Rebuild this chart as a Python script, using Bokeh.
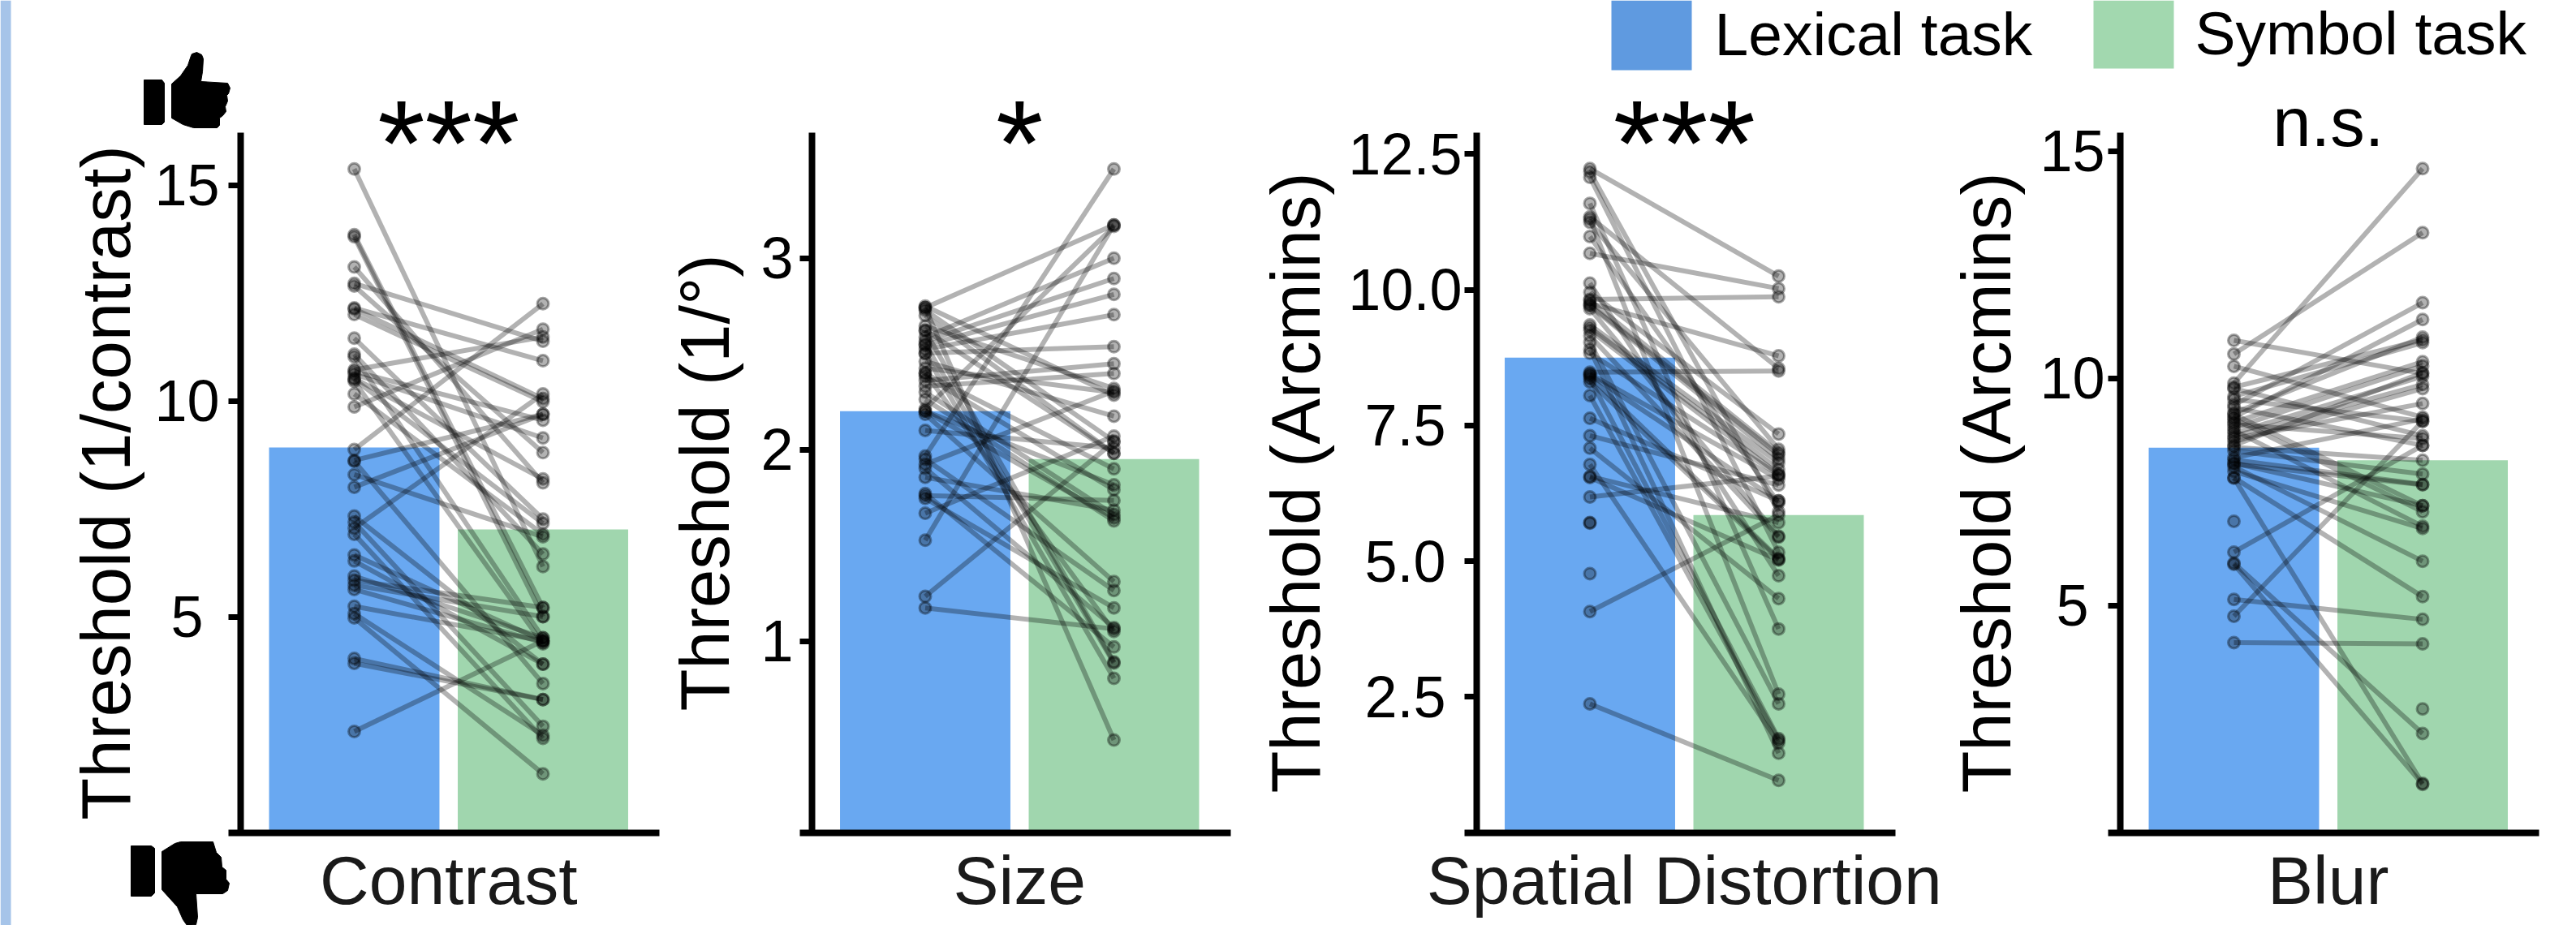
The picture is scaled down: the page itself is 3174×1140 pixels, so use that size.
from bokeh.plotting import figure
from bokeh.models import Range1d, FixedTicker, Label, LinearAxis
from bokeh.embed import file_html
from bokeh.resources import INLINE
from bokeh.core.properties import value

FONT = "Liberation Sans"
tasks = ["Lexical task", "Symbol task"]
LEX = "#69A8F1"
SYM = "#A0D6AE"

contrast_lex = [15.37,13.85,13.80,13.10,12.72,12.66,12.15,12.13,12.00,11.45,11.08,11.02,10.72,10.68,10.62,10.52,10.50,10.45,10.16,9.86,8.87,8.62,8.60,8.29,8.0,7.33,7.19,7.05,6.91,6.43,6.29,5.94,5.84,5.73,5.63,5.24,5.07,4.97,4.03,3.92,2.34]
contrast_sym = [6.16,5.21,5.00,8.10,11.38,8.80,10.93,10.05,9.98,7.26,6.45,4.51,11.48,9.55,9.14,8.19,7.16,4.37,6.91,11.66,12.25,9.69,3.45,6.85,9.69,3.90,2.46,10.16,2.18,4.44,3.90,4.51,5.21,5.00,4.40,4.44,2.25,1.36,3.08,3.08,4.44]
size_lex = [2.749,2.74,2.74,2.728,2.70,2.645,2.623,2.62,2.587,2.566,2.55,2.545,2.524,2.503,2.50,2.46,2.425,2.40,2.397,2.383,2.36,2.33,2.30,2.262,2.212,2.20,2.20,2.184,2.10,1.966,1.95,1.923,1.902,1.855,1.77,1.76,1.745,1.667,1.526,1.233,1.173]
size_sym = [2.284,3.173,0.483,2.043,1.98,2.319,1.98,0.891,2.999,2.893,0.885,2.81,2.704,2.537,0.805,2.174,2.298,1.05,1.899,1.79,2.448,2.397,1.66,1.627,3.165,1.643,1.816,1.31,2.007,3.465,1.264,2.305,1.07,1.683,0.969,1.734,1.173,2.07,3.173,2.04,1.063]
distortion_lex = [12.23,12.17,12.07,11.59,11.34,11.30,11.24,10.98,10.67,10.12,9.95,9.82,9.80,9.75,9.72,9.70,9.65,9.35,9.30,9.25,9.15,9.03,8.90,8.83,8.48,8.45,8.43,8.40,8.36,8.30,8.05,7.63,7.31,7.08,6.78,6.56,6.54,6.18,4.07,2.37]
distortion_sym = [10.25,5.91,5.16,3.75,8.55,2.55,7.06,6.07,10.02,4.73,7.34,9.87,7.0,8.78,6.96,6.88,5.46,6.81,6.69,6.6,5.44,2.37,1.46,6.59,8.50,6.51,6.11,5.05,1.73,5.03,1.70,6.11,6.40,4.31,1.65,5.71,5.02,6.57,5.85,0.96]
distortion_lex_single = [5.71,5.70,4.77]
blur_lex = [10.83,10.53,10.26,9.89,9.80,9.77,9.60,9.53,9.41,9.35,9.23,9.20,9.14,9.10,9.03,8.98,8.91,8.85,8.79,8.72,8.67,8.60,8.52,8.48,8.40,8.25,8.20,8.11,8.13,8.05,7.95,7.81,7.80,6.17,5.93,5.90,5.13,4.76,4.18]
blur_sym = [10.10,13.20,9.14,14.61,10.84,8.73,10.78,9.05,11.66,8.52,10.90,7.19,11.29,7.06,10.36,8.67,10.27,6.74,10.04,9.86,9.44,9.77,10.12,8.19,7.89,9.10,7.66,7.65,7.19,5.97,6.69,5.19,1.08,8.52,2.18,1.06,4.69,9.05,4.15]
blur_lex_single = [6.85]
blur_sym_single = [2.72]

means = {"Contrast": (8.92, 7.02), "Size": (2.20, 1.95), "Spatial Distortion": (8.75, 5.85), "Blur": (8.47, 8.19)}
W, H = 3174, 1140
BOTTOM = 1025.5
TOP = 163
STEP = 232.5

p = figure(width=W, height=H, x_range=Range1d(0, W), y_range=Range1d(H, 0),
           output_backend="svg", toolbar_location=None, min_border=0,
           x_axis_type=None, y_axis_type=None,
           styles={"position": "absolute", "left": "0px", "top": "0px"})
p.outline_line_color = None
p.grid.visible = False
p.background_fill_color = "white"


def panel(key, name, ylabel, sig, lex, sym, ticks, labels, ppu, axis_px, end_px, x1_px,
          tick_standoff, label_standoff, lex_single=(), sym_single=()):
    x0 = 1 - x1_px / STEP
    p.extra_x_ranges[key] = Range1d(x0, x0 + W / STEP)
    p.extra_y_ranges[key] = Range1d((BOTTOM - H) / ppu, BOTTOM / ppu)
    rng = dict(x_range_name=key, y_range_name=key)
    m = means[name]
    p.vbar(x=[1, 2], top=list(m), bottom=0, width=0.903, color=[LEX, SYM], line_color=None, **rng)
    p.segment(x0=[1] * len(lex), y0=lex, x1=[2] * len(sym), y1=sym,
              line_color="black", line_alpha=0.3, line_width=6, **rng)
    xs = [1] * len(lex) + [2] * len(sym) + [1] * len(lex_single) + [2] * len(sym_single)
    ys = list(lex) + list(sym) + list(lex_single) + list(sym_single)
    p.scatter(xs, ys, size=14, fill_color="black", fill_alpha=0.3,
              line_color="black", line_alpha=0.35, line_width=3, **rng)

    ya = LinearAxis(y_range_name=key, fixed_location=axis_px, bounds=(0, (BOTTOM - TOP) / ppu))
    ya.ticker = FixedTicker(ticks=ticks)
    ya.major_label_overrides = dict(zip(ticks, labels))
    ya.minor_tick_line_color = None
    ya.axis_line_width = 8
    ya.major_tick_line_width = 7
    ya.major_tick_out = 15
    ya.major_tick_in = 0
    ya.major_label_text_font = FONT
    ya.major_label_text_font_size = "72px"
    ya.major_label_text_color = "black"
    ya.major_label_standoff = tick_standoff
    ya.axis_label = ylabel
    ya.axis_label_text_font = FONT
    ya.axis_label_text_font_style = "normal"
    ya.axis_label_text_font_size = "85px"
    ya.axis_label_text_color = "black"
    ya.axis_label_standoff = label_standoff
    p.add_layout(ya, "left")

    xa = LinearAxis(x_range_name=key, fixed_location=BOTTOM,
                    bounds=(x0 + (axis_px - 15) / STEP, x0 + end_px / STEP))
    xa.ticker = FixedTicker(ticks=[1.5])
    xa.major_label_overrides = {1.5: name}
    xa.minor_tick_line_color = None
    xa.major_tick_line_color = None
    xa.major_tick_out = 0
    xa.major_tick_in = 0
    xa.axis_line_width = 8
    xa.major_label_text_font = FONT
    xa.major_label_text_font_size = "84px"
    xa.major_label_text_color = "#1a1a1a"
    xa.major_label_standoff = 12
    p.add_layout(xa, "below")

    stars = sig != "n.s."
    p.add_layout(Label(x=1.5, y=176 if stars else 150, x_range_name=key, text=sig, text_align="center",
                       text_baseline="alphabetic", text_font=FONT,
                       text_font_size="150px" if stars else "85px", text_color="black"))


N = "\u00a0"
panel("contrast", "Contrast", "Threshold (1/contrast)", "***", contrast_lex, contrast_sym,
      [5, 10, 15], ["5" + N, "10", "15"], 53.2, 296, 812, 436, 11, 9)
panel("size", "Size", "Threshold (1/°)", "*", size_lex, size_sym,
      [1, 2, 3], ["1", "2", "3"], 236, 1000, 1516, 1139.5, 8, 18)
panel("distortion", "Spatial Distortion", "Threshold (Arcmins)", "***", distortion_lex, distortion_sym,
      [2.5, 5, 7.5, 10, 12.5], ["2.5" + N, "5.0" + N, "7.5" + N, "10.0", "12.5"], 66.9, 1819, 2335, 1958.5, 3, 14,
      lex_single=distortion_lex_single)
panel("blur", "Blur", "Threshold (Arcmins)", "n.s.", blur_lex, blur_sym,
      [5, 10, 15], ["5" + N, "10", "15"], 56, 2612, 3128, 2752, 4, 15,
      lex_single=blur_lex_single, sym_single=blur_sym_single)

up_cuff = [(177, 98), (199, 98), (202, 102), (202, 150), (199, 153), (177, 153)]
up_fist = [(211, 103), (222, 93), (231, 80), (235, 68), (236, 66), (242, 64), (248, 67), (250, 72), (249, 88), (247, 100),
           (280, 102), (283, 108), (281, 115), (279, 117), (280, 124), (277, 131), (278, 137), (274, 142), (270, 145),
           (270, 154), (267, 157), (238, 157), (225, 153), (211, 145)]
down_cuff = [(161, 1042), (186, 1042), (190, 1045), (190, 1100), (186, 1104), (161, 1104)]
down_fist = [(199, 1049), (215, 1039), (222, 1037), (262, 1037), (266, 1050), (272, 1056), (273, 1068), (278, 1072), (278, 1083),
             (282, 1088), (280, 1097), (274, 1101), (241, 1101), (243, 1130), (241, 1139), (230, 1140), (225, 1133),
             (218, 1117), (199, 1096)]
for shape in (up_cuff, up_fist, down_cuff, down_fist):
    p.patch([a for a, b in shape], [b for a, b in shape], color="black", line_width=1)

p.quad(left=[0], right=[13], top=[0], bottom=[H], color="#A6C4E9", line_color=None)
p.quad(left=[1985, 2579], right=[2084, 2678], top=[0, 0], bottom=[86, 84], color=["#5F9AE0", "#A2D8AF"], line_color=None)
p.text(x=[2112, 2704], y=[41, 40], text=tasks, text_font=value(FONT), text_font_size="75px",
       text_color="black", text_baseline="alphabetic", text_align="left")

open("out.html", "w").write(file_html(p, INLINE))
